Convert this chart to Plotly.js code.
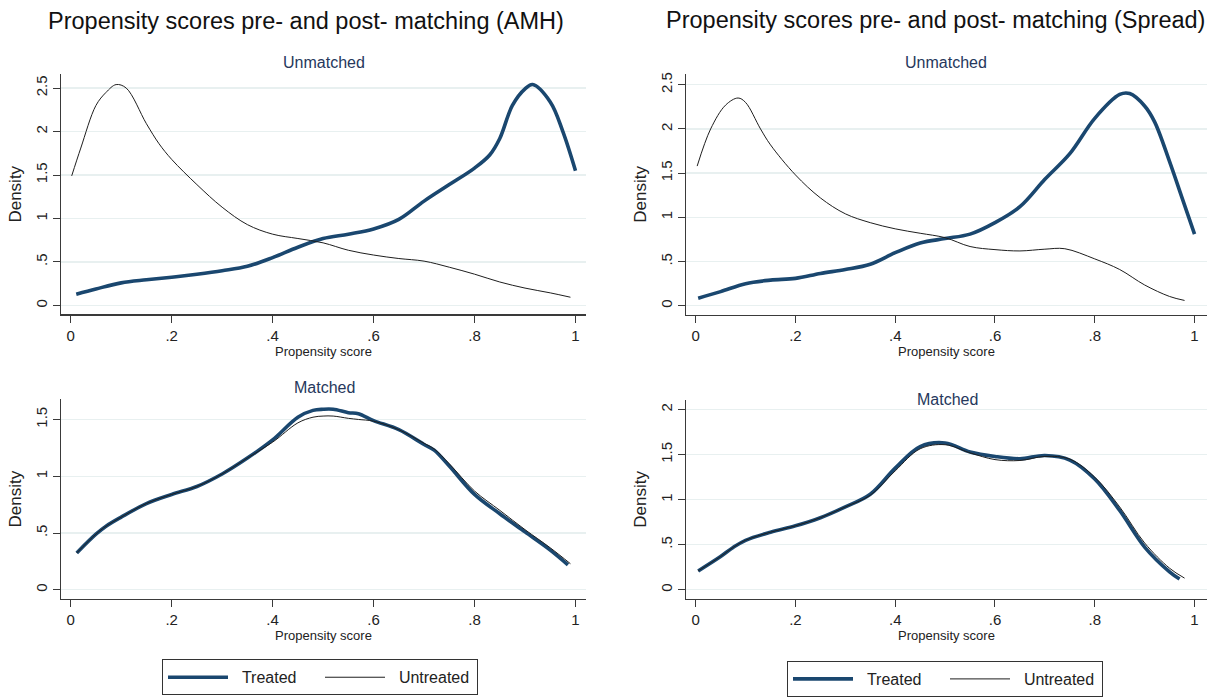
<!DOCTYPE html>
<html>
<head>
<meta charset="utf-8">
<script src="https://cdn.plot.ly/plotly-3.0.1.min.js"></script>
<style>
  html, body { margin: 0; padding: 0; background: #ffffff; overflow: hidden; }
  #chart { width: 1211px; height: 697px; overflow: hidden; }
</style>
</head>
<body>
<div id="chart"></div>
<script>
// ---------------- Data ----------------
const seriesNames = ["Treated", "Untreated"];
const panelTitles = ["Propensity scores pre- and post- matching (AMH)", "Propensity scores pre- and post- matching (Spread)"];
const subTitles = ["Unmatched", "Matched"];

const xTickVals = [0, 0.2, 0.4, 0.6, 0.8, 1];
const xTickText = ["0", ".2", ".4", ".6", ".8", "1"];
const yTickVals25 = [0, 0.5, 1, 1.5, 2, 2.5];
const yTickText25 = ["0", ".5", "1", "1.5", "2", "2.5"];
const yTickVals15 = [0, 0.5, 1, 1.5];
const yTickText15 = ["0", ".5", "1", "1.5"];
const yTickVals20 = [0, 0.5, 1, 1.5, 2];
const yTickText20 = ["0", ".5", "1", "1.5", "2"];

// AMH - Unmatched
const amhUnmTreatedX = [0.011, 0.05, 0.1, 0.15, 0.2, 0.25, 0.3, 0.35, 0.4, 0.45, 0.5, 0.55, 0.6, 0.65, 0.7, 0.75, 0.8, 0.83, 0.85, 0.875, 0.9, 0.915, 0.95, 0.975, 1.0];
const amhUnmTreatedY = [0.13, 0.19, 0.26, 0.295, 0.325, 0.36, 0.40, 0.45, 0.55, 0.67, 0.77, 0.82, 0.88, 0.99, 1.2, 1.39, 1.58, 1.73, 1.92, 2.3, 2.49, 2.54, 2.34, 2.0, 1.55];
const amhUnmUntreatedX = [0.002, 0.02, 0.05, 0.07, 0.09, 0.11, 0.15, 0.175, 0.2, 0.25, 0.3, 0.35, 0.4, 0.45, 0.5, 0.55, 0.6, 0.65, 0.7, 0.75, 0.8, 0.85, 0.9, 0.95, 0.99];
const amhUnmUntreatedY = [1.49, 1.81, 2.3, 2.45, 2.54, 2.5, 2.09, 1.86, 1.68, 1.39, 1.13, 0.93, 0.82, 0.77, 0.72, 0.635, 0.58, 0.54, 0.51, 0.44, 0.36, 0.27, 0.2, 0.145, 0.095];

// AMH - Matched
const amhMatTreatedX = [0.012, 0.05, 0.07, 0.1, 0.15, 0.2, 0.25, 0.3, 0.35, 0.4, 0.45, 0.48, 0.5, 0.52, 0.55, 0.57, 0.6, 0.65, 0.7, 0.72, 0.75, 0.8, 0.85, 0.9, 0.95, 0.985];
const amhMatTreatedY = [0.325, 0.49, 0.56, 0.64, 0.76, 0.84, 0.91, 1.02, 1.16, 1.32, 1.52, 1.58, 1.59, 1.59, 1.56, 1.55, 1.49, 1.41, 1.28, 1.23, 1.09, 0.84, 0.67, 0.51, 0.35, 0.22];
const amhMatUntreatedX = [0.012, 0.05, 0.07, 0.1, 0.15, 0.2, 0.25, 0.3, 0.35, 0.4, 0.45, 0.48, 0.5, 0.52, 0.55, 0.57, 0.6, 0.65, 0.7, 0.72, 0.75, 0.8, 0.85, 0.9, 0.95, 0.99];
const amhMatUntreatedY = [0.325, 0.49, 0.56, 0.64, 0.76, 0.84, 0.91, 1.02, 1.16, 1.30, 1.47, 1.52, 1.53, 1.53, 1.51, 1.50, 1.485, 1.41, 1.29, 1.24, 1.11, 0.87, 0.70, 0.53, 0.37, 0.23];

// Spread - Unmatched
const sprUnmTreatedX = [0.005, 0.05, 0.1, 0.15, 0.2, 0.25, 0.3, 0.35, 0.4, 0.45, 0.5, 0.55, 0.6, 0.65, 0.7, 0.75, 0.8, 0.85, 0.87, 0.9, 0.92, 0.95, 0.975, 1.0];
const sprUnmTreatedY = [0.086, 0.16, 0.25, 0.29, 0.31, 0.365, 0.41, 0.47, 0.60, 0.71, 0.76, 0.81, 0.94, 1.12, 1.43, 1.72, 2.12, 2.39, 2.40, 2.26, 2.08, 1.63, 1.22, 0.81];
const sprUnmUntreatedX = [0.003, 0.03, 0.06, 0.085, 0.1, 0.13, 0.15, 0.2, 0.25, 0.3, 0.35, 0.4, 0.45, 0.5, 0.55, 0.6, 0.65, 0.7, 0.74, 0.8, 0.85, 0.9, 0.95, 0.98];
const sprUnmUntreatedY = [1.58, 2.0, 2.27, 2.35, 2.30, 2.0, 1.82, 1.48, 1.22, 1.04, 0.94, 0.87, 0.82, 0.77, 0.67, 0.635, 0.62, 0.64, 0.645, 0.53, 0.41, 0.235, 0.105, 0.06];

// Spread - Matched
const sprMatTreatedX = [0.005, 0.05, 0.075, 0.1, 0.15, 0.2, 0.25, 0.3, 0.35, 0.4, 0.45, 0.5, 0.55, 0.6, 0.65, 0.7, 0.75, 0.8, 0.85, 0.9, 0.95, 0.97];
const sprMatTreatedY = [0.21, 0.37, 0.47, 0.55, 0.64, 0.71, 0.80, 0.92, 1.06, 1.35, 1.59, 1.63, 1.53, 1.48, 1.455, 1.49, 1.44, 1.23, 0.88, 0.475, 0.20, 0.12];
const sprMatUntreatedX = [0.005, 0.05, 0.075, 0.1, 0.15, 0.2, 0.25, 0.3, 0.35, 0.4, 0.45, 0.5, 0.55, 0.6, 0.65, 0.7, 0.75, 0.8, 0.85, 0.9, 0.95, 0.98];
const sprMatUntreatedY = [0.21, 0.37, 0.47, 0.55, 0.64, 0.71, 0.80, 0.92, 1.05, 1.32, 1.565, 1.61, 1.52, 1.445, 1.435, 1.48, 1.45, 1.25, 0.92, 0.52, 0.24, 0.13];

// ---------------- Styling ----------------
const FONT = "Liberation Sans, Arial, Helvetica, sans-serif";
const NAVY = "#1a476f";
const THIN = "#1e1e1e";
const SUBCOL = "#26385c";
const AXCOL = "#3a3a3a";
const GRIDCOL = "#e8f0f0";
const NBSP2 = "\u00a0\u00a0";

function curve(x, y, name, axisId, legendId, show) {
  const treated = name === seriesNames[0];
  return {
    type: "scatter", mode: "lines", x: x, y: y, name: NBSP2 + name,
    xaxis: "x" + axisId, yaxis: "y" + axisId,
    legend: legendId, showlegend: show,
    line: { color: treated ? NAVY : THIN, width: treated ? 3.6 : 1, shape: "spline", smoothing: 1 },
    hoverinfo: "skip"
  };
}

const traces = [
  curve(amhUnmTreatedX, amhUnmTreatedY, seriesNames[0], "", "legend", false),
  curve(amhUnmUntreatedX, amhUnmUntreatedY, seriesNames[1], "", "legend", false),
  curve(amhMatTreatedX, amhMatTreatedY, seriesNames[0], "3", "legend", true),
  curve(amhMatUntreatedX, amhMatUntreatedY, seriesNames[1], "3", "legend", true),
  curve(sprUnmTreatedX, sprUnmTreatedY, seriesNames[0], "2", "legend2", false),
  curve(sprUnmUntreatedX, sprUnmUntreatedY, seriesNames[1], "2", "legend2", false),
  curve(sprMatTreatedX, sprMatTreatedY, seriesNames[0], "4", "legend2", true),
  curve(sprMatUntreatedX, sprMatUntreatedY, seriesNames[1], "4", "legend2", true)
];

const W = 1211, H = 697;
const px = v => v / W;
const py = v => 1 - v / H;

function xAxis(l, r, anchor, range) {
  return {
    domain: [px(l), px(r)], anchor: anchor, range: range,
    tickmode: "array", tickvals: xTickVals, ticktext: xTickText,
    ticks: "outside", ticklen: 7, tickwidth: 1, tickcolor: AXCOL,
    showline: true, linecolor: AXCOL, linewidth: 1.3,
    showgrid: false, zeroline: false, automargin: false,
    tickfont: { family: FONT, size: 15, color: "#222" },
    title: { text: "Propensity score", font: { family: FONT, size: 13, color: "#222" }, standoff: 2 }
  };
}
function yAxis(top, bottom, anchor, range, vals, text) {
  return {
    domain: [py(bottom), py(top)], anchor: anchor, range: range,
    tickmode: "array", tickvals: vals, ticktext: text, tickangle: -90,
    ticks: "outside", ticklen: 7, tickwidth: 1, tickcolor: AXCOL,
    showline: true, linecolor: AXCOL, linewidth: 1.3,
    showgrid: true, gridcolor: GRIDCOL, gridwidth: 1.3, zeroline: false, automargin: false,
    tickfont: { family: FONT, size: 15, color: "#222" },
    title: { text: "Density", font: { family: FONT, size: 17, color: "#222" }, standoff: 6 }
  };
}

const annText = (text, x, y, size, color) => ({
  text: text, x: px(x), y: py(y), xref: "paper", yref: "paper",
  xanchor: "center", yanchor: "middle", showarrow: false,
  font: { family: FONT, size: size, color: color }
});

const legendBase = {
  orientation: "h", bordercolor: "#333", borderwidth: 1, bgcolor: "#ffffff",
  font: { family: FONT, size: 16, color: "#222" },
  itemwidth: 60, entrywidth: 82, entrywidthmode: "pixels",
  xanchor: "left", yanchor: "top", traceorder: "normal",
  itemclick: false, itemdoubleclick: false
};

const layout = {
  width: W, height: H,
  margin: { l: 0, r: 0, t: 0, b: 0, pad: 0 },
  paper_bgcolor: "#ffffff", plot_bgcolor: "#ffffff",
  showlegend: true,
  xaxis:  xAxis(61, 586, "y",  [-0.0192, 1.0208]),
  yaxis:  yAxis(75, 318, "x",  [-0.102, 2.66], yTickVals25, yTickText25),
  xaxis2: xAxis(686, 1207, "y2", [-0.0194, 1.025]),
  yaxis2: yAxis(75, 318.3, "x2", [-0.1006, 2.62], yTickVals25, yTickText25),
  xaxis3: xAxis(61, 586, "y3", [-0.0192, 1.0208]),
  yaxis3: yAxis(404, 606, "x3", [-0.081, 1.677], yTickVals15, yTickText15),
  xaxis4: xAxis(686, 1207, "y4", [-0.0194, 1.025]),
  yaxis4: yAxis(404.3, 606, "x4", [-0.102, 2.11], yTickVals20, yTickText20),
  legend:  Object.assign({}, legendBase, { x: px(162), y: py(667) }),
  legend2: Object.assign({}, legendBase, { x: px(787), y: py(669) }),
  annotations: [
    annText(panelTitles[0], 306, 21, 23.5, "#111"),
    annText(panelTitles[1], 935, 20, 23.5, "#111"),
    annText(subTitles[0], 324, 63, 16, SUBCOL),
    annText(subTitles[0], 946, 63, 16, SUBCOL),
    annText(subTitles[1], 324, 392, 16, SUBCOL),
    annText(subTitles[1], 947, 404, 16, SUBCOL)
  ]
};

Plotly.newPlot("chart", traces, layout, { staticPlot: true, displayModeBar: false });
</script>
</body>
</html>
